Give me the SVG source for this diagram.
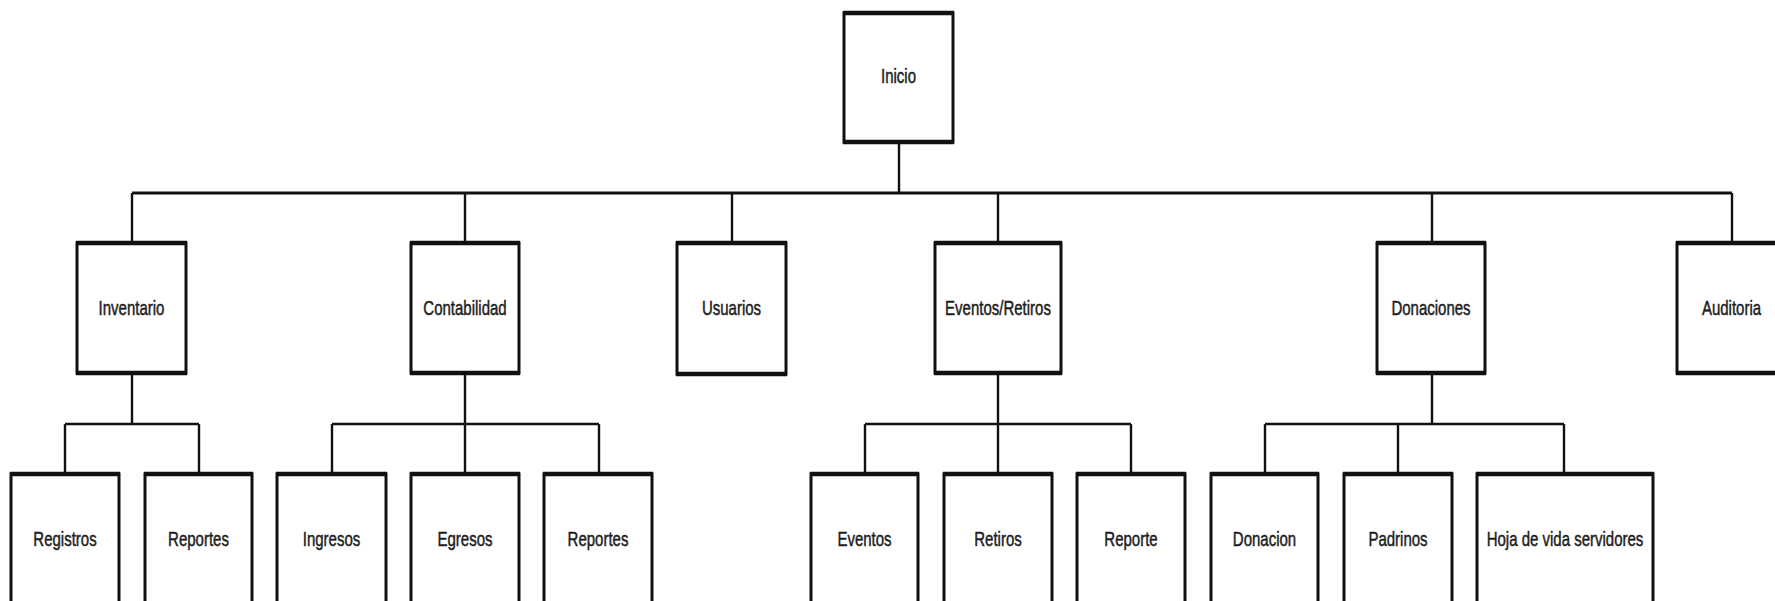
<svg xmlns="http://www.w3.org/2000/svg" width="1775" height="601" viewBox="0 0 1775 601">
<style>
.box{fill:#fff;stroke:#111;stroke-width:3}
.edge{fill:none;stroke:#111;stroke-width:4.5;stroke-linecap:butt}
.bar{fill:none;stroke:#111;stroke-width:3}
.ln{fill:none;stroke:#111;stroke-width:2.4}
.lbl{font-family:"Liberation Sans",Arial,sans-serif;font-size:15px;fill:#1c1c1c;stroke:#1c1c1c;stroke-width:0.35;text-anchor:middle}
</style>
<rect width="1775" height="601" fill="#fff"/>
<g id="connectors">
<path class="ln" d="M899 142V193"/>
<path class="bar" d="M132 193H1732"/>
<path class="ln" d="M132 193V243M465 193V243M732 193V243M998 193V243M1432 193V243M1732 193V243"/>
<path class="ln" d="M132 373V424M65 424H199M65 424V474M199 424V474"/>
<path class="ln" d="M465 373V474M332 424H599M332 424V474M599 424V474"/>
<path class="ln" d="M998 373V474M865 424H1131M865 424V474M1131 424V474"/>
<path class="ln" d="M1432 373V424M1265 424H1564M1265 424V474M1398 424V474M1564 424V474"/>
</g>
<g id="inicio"><rect class="box" x="844" y="13" width="109" height="129"/><path class="edge" d="M843 13H954M843 142H954"/><text class="lbl" transform="translate(898.5 83) scale(1 1.4)">Inicio</text></g>
<g id="inventario"><rect class="box" x="77" y="243" width="109" height="130"/><path class="edge" d="M76 243H187M76 373H187"/><text class="lbl" transform="translate(131.5 315) scale(1 1.4)">Inventario</text></g>
<g id="contabilidad"><rect class="box" x="411" y="243" width="108" height="130"/><path class="edge" d="M410 243H520M410 373H520"/><text class="lbl" transform="translate(465 315) scale(1 1.4)">Contabilidad</text></g>
<g id="usuarios"><rect class="box" x="677" y="243" width="109" height="131"/><path class="edge" d="M676 243H787M676 374H787"/><text class="lbl" transform="translate(731.5 315) scale(1 1.4)">Usuarios</text></g>
<g id="eventos-retiros"><rect class="box" x="935" y="243" width="126" height="130"/><path class="edge" d="M934 243H1062M934 373H1062"/><text class="lbl" transform="translate(998 315) scale(1 1.4)">Eventos/Retiros</text></g>
<g id="donaciones"><rect class="box" x="1377" y="243" width="108" height="130"/><path class="edge" d="M1376 243H1486M1376 373H1486"/><text class="lbl" transform="translate(1431 315) scale(1 1.4)">Donaciones</text></g>
<g id="auditoria"><rect class="box" x="1677" y="243" width="109" height="130"/><path class="edge" d="M1676 243H1787M1676 373H1787"/><text class="lbl" transform="translate(1731.5 315) scale(1 1.4)">Auditoria</text></g>
<g id="registros"><rect class="box" x="11" y="474" width="108" height="130"/><path class="edge" d="M10 474H120"/><text class="lbl" transform="translate(65 546) scale(1 1.4)">Registros</text></g>
<g id="reportes-inv"><rect class="box" x="145" y="474" width="107" height="130"/><path class="edge" d="M144 474H253"/><text class="lbl" transform="translate(198.5 546) scale(1 1.4)">Reportes</text></g>
<g id="ingresos"><rect class="box" x="277" y="474" width="109" height="130"/><path class="edge" d="M276 474H387"/><text class="lbl" transform="translate(331.5 546) scale(1 1.4)">Ingresos</text></g>
<g id="egresos"><rect class="box" x="411" y="474" width="108" height="130"/><path class="edge" d="M410 474H520"/><text class="lbl" transform="translate(465 546) scale(1 1.4)">Egresos</text></g>
<g id="reportes-cont"><rect class="box" x="544" y="474" width="108" height="130"/><path class="edge" d="M543 474H653"/><text class="lbl" transform="translate(598 546) scale(1 1.4)">Reportes</text></g>
<g id="eventos"><rect class="box" x="811" y="474" width="107" height="130"/><path class="edge" d="M810 474H919"/><text class="lbl" transform="translate(864.5 546) scale(1 1.4)">Eventos</text></g>
<g id="retiros"><rect class="box" x="944" y="474" width="108" height="130"/><path class="edge" d="M943 474H1053"/><text class="lbl" transform="translate(998 546) scale(1 1.4)">Retiros</text></g>
<g id="reporte"><rect class="box" x="1077" y="474" width="108" height="130"/><path class="edge" d="M1076 474H1186"/><text class="lbl" transform="translate(1131 546) scale(1 1.4)">Reporte</text></g>
<g id="donacion"><rect class="box" x="1211" y="474" width="107" height="130"/><path class="edge" d="M1210 474H1319"/><text class="lbl" transform="translate(1264.5 546) scale(1 1.4)">Donacion</text></g>
<g id="padrinos"><rect class="box" x="1344" y="474" width="108" height="130"/><path class="edge" d="M1343 474H1453"/><text class="lbl" transform="translate(1398 546) scale(1 1.4)">Padrinos</text></g>
<g id="hoja-vida"><rect class="box" x="1477" y="474" width="176" height="130"/><path class="edge" d="M1476 474H1654"/><text class="lbl" transform="translate(1565 546) scale(1 1.4)">Hoja de vida servidores</text></g>
</svg>
